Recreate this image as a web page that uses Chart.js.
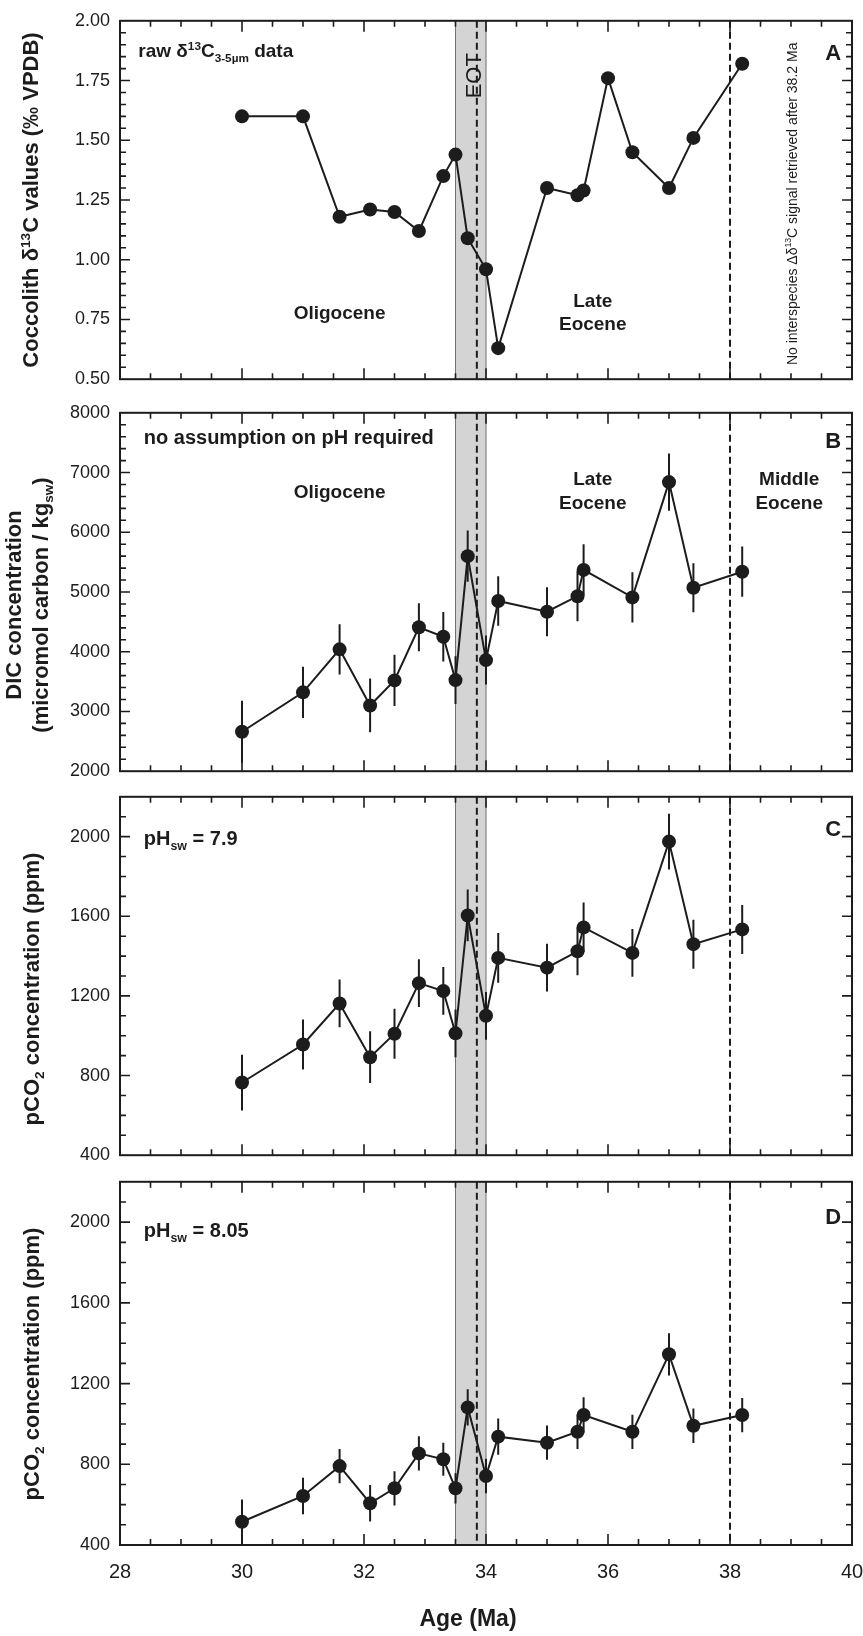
<!DOCTYPE html>
<html>
<head>
<meta charset="utf-8">
<script src="https://cdn.jsdelivr.net/npm/chart.js@4.4.1/dist/chart.umd.min.js"></script>
<style>
  body { margin: 0; background: #fff; }
  #wrap { position: relative; width: 863px; height: 1636px; }
  canvas { position: absolute; left: 0; }
</style>
</head>
<body>
<div id="wrap">
  <canvas id="panelA" width="863" height="400" style="top:0px"></canvas>
  <canvas id="panelB" width="863" height="400" style="top:392px"></canvas>
  <canvas id="panelC" width="863" height="400" style="top:776px"></canvas>
  <canvas id="panelD" width="863" height="475" style="top:1161px"></canvas>
</div>
<script>
// ---- data ----
const agesA = [30.0, 31.0, 31.6, 32.1, 32.5, 32.9, 33.3, 33.5, 33.7, 34.0, 34.2, 35.0, 35.5, 35.6, 36.0, 36.4, 37.0, 37.4, 38.2];
const d13C  = [1.60, 1.60, 1.18, 1.21, 1.20, 1.12, 1.35, 1.44, 1.09, 0.96, 0.63, 1.30, 1.27, 1.29, 1.76, 1.45, 1.30, 1.51, 1.82];

const ages   = [30.0, 31.0, 31.6, 32.1, 32.5, 32.9, 33.3, 33.5, 33.7, 34.0, 34.2, 35.0, 35.5, 35.6, 36.4, 37.0, 37.4, 38.2];
const dic    = [2660, 3320, 4040, 3100, 3520, 4410, 4250, 3525, 5600, 3860, 4850, 4670, 4930, 5370, 4910, 6840, 5070, 5340];
const dicErr = [520, 430, 420, 450, 430, 400, 415, 400, 430, 410, 415, 410, 420, 430, 420, 480, 410, 420];

const pco2Low    = [765, 956, 1162, 892, 1010, 1264, 1225, 1012, 1604, 1100, 1391, 1342, 1424, 1544, 1416, 1975, 1460, 1534];
const pco2LowErr = [140, 125, 120, 130, 125, 120, 120, 120, 130, 120, 125, 120, 120, 125, 120, 140, 123, 123];

const pco2High    = [515, 643, 791, 607, 681, 854, 825, 681, 1082, 742, 937, 907, 961, 1044, 961, 1345, 991, 1044];
const pco2HighErr = [110, 90, 85, 90, 85, 85, 82, 75, 90, 85, 90, 85, 85, 88, 85, 105, 85, 85];

const ageTicks = [28, 30, 32, 34, 36, 38, 40];
const eotBand = [33.5, 34.0];
const dashedAges = [33.85, 38.0];

const FONT = '"Liberation Sans", Arial, Helvetica, sans-serif';
const INK = '#1c1c1c';

// draw a string made of pieces, some super/subscript
function drawRich(ctx, segs, x, y, size, weight, align, angle) {
  ctx.save();
  ctx.translate(x, y);
  if (angle) ctx.rotate(angle);
  ctx.fillStyle = INK;
  ctx.textBaseline = 'alphabetic';
  const parts = segs.map(s => {
    const kind = s[1] || '';
    const fs = kind ? size * 0.62 : size;
    ctx.font = weight + ' ' + fs + 'px ' + FONT;
    return { t: s[0], kind, fs, w: ctx.measureText(s[0]).width };
  });
  const total = parts.reduce((a, p) => a + p.w, 0);
  let cx = align === 'left' ? 0 : -total / 2;
  const base = size * 0.36;
  parts.forEach(p => {
    ctx.font = weight + ' ' + p.fs + 'px ' + FONT;
    let dy = base;
    if (p.kind === 'sup') dy -= size * 0.38;
    if (p.kind === 'sub') dy += size * 0.24;
    ctx.fillText(p.t, cx, dy);
    cx += p.w;
  });
  ctx.restore();
}

// per panel extras (keyed by canvas id)
const panelCfg = {
  panelA: {
    yMajor: 0.25, yMinor: 0.05, err: null,
    yTitle: { lines: [[['Coccolith δ'], ['13', 'sup'], ['C values (‰ VPDB)']]], x: [30], y: 200 },
    texts: [
      { segs: [['raw δ'], ['13', 'sup'], ['C'], ['3-5µm', 'sub'], [' data']], ax: 28.3, ay: 1.877, size: 19, weight: 'bold', align: 'left' },
      { segs: [['Oligocene']], ax: 31.6, ay: 0.78, size: 19, weight: 'bold' },
      { segs: [['Late']], ax: 35.75, ay: 0.832, size: 19, weight: 'bold' },
      { segs: [['Eocene']], ax: 35.75, ay: 0.734, size: 19, weight: 'bold' },
      { segs: [['EOT']], ax: 33.79, ay: 1.77, size: 22, weight: 'normal', rot: -Math.PI / 2 },
      { segs: [['No interspecies Δδ'], ['13', 'sup'], ['C signal retrieved after 38.2 Ma']], ax: 39.01, ay: 1.234, size: 14, weight: 'normal', rot: -Math.PI / 2 },
      { segs: [['A']], ax: 39.69, ay: 1.87, size: 22, weight: 'bold' }
    ]
  },
  panelB: {
    yMajor: 1000, yMinor: 200, err: dicErr,
    yTitle: { lines: [[['DIC concentration']], [['(micromol carbon / kg'], ['sw', 'sub'], [')']]], x: [13, 40], y: 213 },
    texts: [
      { segs: [['no assumption on pH required']], ax: 28.39, ay: 7590, size: 20, weight: 'bold', align: 'left' },
      { segs: [['Oligocene']], ax: 31.6, ay: 6689, size: 19, weight: 'bold' },
      { segs: [['Late']], ax: 35.75, ay: 6902, size: 19, weight: 'bold' },
      { segs: [['Eocene']], ax: 35.75, ay: 6508, size: 19, weight: 'bold' },
      { segs: [['Middle']], ax: 38.97, ay: 6902, size: 19, weight: 'bold' },
      { segs: [['Eocene']], ax: 38.97, ay: 6508, size: 19, weight: 'bold' },
      { segs: [['B']], ax: 39.69, ay: 7541, size: 22, weight: 'bold' }
    ]
  },
  panelC: {
    yMajor: 400, yMinor: 100, err: pco2LowErr,
    yTitle: { lines: [[['pCO'], ['2', 'sub'], [' concentration (ppm)']]], x: [31], y: 213 },
    texts: [
      { segs: [['pH'], ['sw', 'sub'], [' = 7.9']], ax: 28.39, ay: 1995, size: 20, weight: 'bold', align: 'left' },
      { segs: [['C']], ax: 39.69, ay: 2044, size: 22, weight: 'bold' }
    ]
  },
  panelD: {
    yMajor: 400, yMinor: 100, err: pco2HighErr,
    yTitle: { lines: [[['pCO'], ['2', 'sub'], [' concentration (ppm)']]], x: [31], y: 203 },
    xTitle: { segs: [['Age (Ma)']], x: 468, y: 457 },
    texts: [
      { segs: [['pH'], ['sw', 'sub'], [' = 8.05']], ax: 28.39, ay: 1960, size: 20, weight: 'bold', align: 'left' },
      { segs: [['D']], ax: 39.69, ay: 2031, size: 22, weight: 'bold' }
    ]
  }
};

const decor = {
  id: 'decor',
  beforeDatasetsDraw(chart) {
    const cfg = panelCfg[chart.canvas.id];
    const { ctx, chartArea: a, scales: { x, y } } = chart;
    ctx.save();
    // EOT band
    const b0 = x.getPixelForValue(eotBand[0]), b1 = x.getPixelForValue(eotBand[1]);
    ctx.fillStyle = '#d4d4d4';
    ctx.fillRect(b0, a.top, b1 - b0, a.bottom - a.top);
    ctx.strokeStyle = '#707070';
    ctx.lineWidth = 1;
    [b0, b1].forEach(px => {
      ctx.beginPath(); ctx.moveTo(px, a.top); ctx.lineTo(px, a.bottom); ctx.stroke();
    });
    // dashed boundaries
    ctx.strokeStyle = INK;
    ctx.lineWidth = 2;
    ctx.setLineDash([7, 4]);
    dashedAges.forEach(ag => {
      const px = x.getPixelForValue(ag);
      ctx.beginPath(); ctx.moveTo(px, a.top); ctx.lineTo(px, a.bottom); ctx.stroke();
    });
    ctx.setLineDash([]);
    // error bars
    if (cfg.err) {
      ctx.beginPath();
      ctx.rect(a.left, a.top, a.width, a.height);
      ctx.clip();
      const pts = chart.data.datasets[0].data;
      ctx.lineWidth = 2;
      pts.forEach((p, i) => {
        const px = x.getPixelForValue(p.x);
        ctx.beginPath();
        ctx.moveTo(px, y.getPixelForValue(p.y - cfg.err[i]));
        ctx.lineTo(px, y.getPixelForValue(p.y + cfg.err[i]));
        ctx.stroke();
      });
    }
    ctx.restore();
  },
  afterDraw(chart) {
    const cfg = panelCfg[chart.canvas.id];
    const { ctx, chartArea: a, scales: { x, y } } = chart;
    ctx.save();
    ctx.strokeStyle = INK;
    // ticks on all four sides, pointing inwards
    ctx.lineWidth = 1.6;
    for (let i = 1; i < 24; i++) {
      const v = 28 + i * 0.5;
      const px = x.getPixelForValue(v);
      const len = (i % 4 === 0) ? 11 : 6;
      ctx.beginPath();
      ctx.moveTo(px, a.bottom); ctx.lineTo(px, a.bottom - len);
      ctx.moveTo(px, a.top); ctx.lineTo(px, a.top + len);
      ctx.stroke();
    }
    const n = Math.round((y.max - y.min) / cfg.yMinor);
    for (let i = 1; i < n; i++) {
      const v = y.min + i * cfg.yMinor;
      const r = v / cfg.yMajor;
      const len = Math.abs(r - Math.round(r)) < 1e-6 ? 10 : 6;
      const py = y.getPixelForValue(v);
      ctx.beginPath();
      ctx.moveTo(a.left, py); ctx.lineTo(a.left + len, py);
      ctx.moveTo(a.right, py); ctx.lineTo(a.right - len, py);
      ctx.stroke();
    }
    // frame
    ctx.lineWidth = 2;
    ctx.strokeRect(a.left, a.top, a.right - a.left, a.bottom - a.top);
    ctx.restore();

    // annotations
    cfg.texts.forEach(t => {
      drawRich(ctx, t.segs, x.getPixelForValue(t.ax), y.getPixelForValue(t.ay),
        t.size, t.weight, t.align || 'center', t.rot || 0);
    });
    // axis titles
    cfg.yTitle.lines.forEach((segs, i) => {
      drawRich(ctx, segs, cfg.yTitle.x[i], cfg.yTitle.y, 22, 'bold', 'center', -Math.PI / 2);
    });
    if (cfg.xTitle) {
      drawRich(ctx, cfg.xTitle.segs, cfg.xTitle.x, cfg.xTitle.y, 23, 'bold', 'center', 0);
    }
  }
};

function makePanel(id, xs, ys, yMin, yMax, yStep, fmt, pad, showX) {
  new Chart(document.getElementById(id), {
    type: 'line',
    data: {
      datasets: [{
        data: xs.map((a, i) => ({ x: a, y: ys[i] })),
        borderColor: INK,
        borderWidth: 2,
        pointRadius: 7,
        pointHoverRadius: 7,
        pointBackgroundColor: INK,
        pointBorderWidth: 0,
        tension: 0
      }]
    },
    options: {
      responsive: false,
      devicePixelRatio: 1,
      animation: false,
      events: [],
      layout: { padding: pad },
      plugins: { legend: { display: false }, tooltip: { enabled: false } },
      scales: {
        x: {
          type: 'linear', min: 28, max: 40,
          display: showX,
          grid: { display: false, drawTicks: false },
          border: { display: false },
          afterBuildTicks: s => { s.ticks = ageTicks.map(v => ({ value: v })); },
          ticks: { font: { size: 20, family: FONT }, color: INK, padding: 15, maxRotation: 0, autoSkip: false },
          afterFit: s => {
            s.height = showX ? 91 : 0;
            s.paddingLeft = 0;
            s.paddingRight = 0;
          }
        },
        y: {
          type: 'linear', min: yMin, max: yMax,
          grid: { display: false, drawTicks: false },
          border: { display: false },
          ticks: { stepSize: yStep, font: { size: 18, family: FONT }, color: INK, padding: 10, callback: fmt },
          afterFit: s => { s.width = 120; }
        }
      }
    },
    plugins: [decor]
  });
}

const fmt2 = v => v.toFixed(2);
const fmtInt = v => String(Math.round(v));
const fmt400 = v => (Math.round(v) % 400 === 0 ? String(Math.round(v)) : null);

makePanel('panelA', agesA, d13C, 0.5, 2.0, 0.25, fmt2, { top: 18, right: 11, bottom: 17, left: 0 }, false);
makePanel('panelB', ages, dic, 2000, 8000, 1000, fmtInt, { top: 20, right: 11, bottom: 15, left: 0 }, false);
makePanel('panelC', ages, pco2Low, 400, 2200, 400, fmt400, { top: 20, right: 11, bottom: 14, left: 0 }, false);
makePanel('panelD', ages, pco2High, 400, 2200, 400, fmt400, { top: 20, right: 11, bottom: 0, left: 0 }, true);
</script>
</body>
</html>
